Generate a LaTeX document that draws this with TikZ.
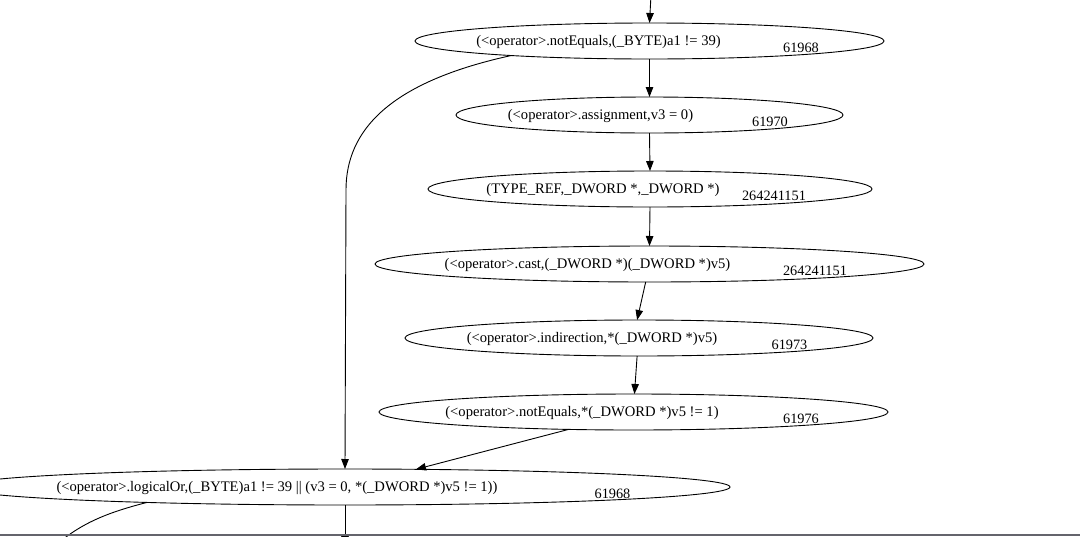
\documentclass[tikz,border=0pt]{standalone}
\usepackage{fontspec}
\setmainfont{Liberation Serif}
\usetikzlibrary{arrows.meta,shapes.geometric,calc}
\definecolor{rulegray}{RGB}{100,100,108}
\tikzset{
  ast/.style={ellipse, draw, line width=0.9pt, inner sep=0pt, outer sep=0pt, minimum height=36pt},
  lbl/.style={anchor=base, inner sep=0pt, font=\fontsize{14.6}{16}\selectfont},
  num/.style={anchor=base, inner sep=0pt, font=\fontsize{14.3}{16}\selectfont},
  edge/.style={draw, line width=0.9pt, -{Triangle[length=10pt,width=7.5pt]}},
  plain/.style={draw, line width=0.9pt},
  rule/.style={draw=rulegray, line width=1.5pt}
}
\begin{document}
\begin{tikzpicture}[x=1pt,y=-1pt]
\useasboundingbox (0,0) rectangle (1080,536);
\clip (0,0) rectangle (1080,536);
% nodes
\node[ast, minimum width=469pt] (n1) at (649.5,41) {};
\node[lbl] (t1) at (598.5,45) {(<operator>.notEquals,(\_BYTE)a1 != 39)};
\node[num] (k1) at (801,52) {61968};
\node[ast, minimum width=387pt] (n2) at (649.5,115) {};
\node[lbl] (t2) at (600.5,119) {(<operator>.assignment,v3 = 0)};
\node[num] (k2) at (770,126) {61970};
\node[ast, minimum width=444pt] (n3) at (650,189) {};
\node[lbl] (t3) at (603,193) {(TYPE\_REF,\_DWORD *,\_DWORD *)};
\node[num] (k3) at (774,200) {264241151};
\node[ast, minimum width=549pt] (n4) at (649.5,264) {};
\node[lbl] (t4) at (587.5,268) {(<operator>.cast,(\_DWORD *)(\_DWORD *)v5)};
\node[num] (k4) at (815,275) {264241151};
\node[ast, minimum width=468pt] (n5) at (639,338) {};
\node[lbl] (t5) at (592,342) {(<operator>.indirection,*(\_DWORD *)v5)};
\node[num] (k5) at (789.5,349) {61973};
\node[ast, minimum width=509pt] (n6) at (633.5,412) {};
\node[lbl] (t6) at (582,416) {(<operator>.notEquals,*(\_DWORD *)v5 != 1)};
\node[num] (k6) at (801,423) {61976};
\node[ast, minimum width=770pt] (n7) at (345,487) {};
\node[lbl] (t7) at (277,491) {(<operator>.logicalOr,(\_BYTE)a1 != 39 || (v3 = 0, *(\_DWORD *)v5 != 1))};
\node[num] (k7) at (612.5,498) {61968};
% free ends
\coordinate (top) at (651,-5);
\coordinate (bot) at (345,546);
\coordinate (botl) at (55,546);
\coordinate (n7out) at ($(n7.center)+(-198,15.4)$);
% edges
\draw[edge] (top) -- (n1.north);
\draw[edge] (n1.south) -- (n2.north);
\draw[edge] (n2.south) -- (n3.north);
\draw[edge] (n3.south) -- (n4.north);
\draw[edge] (n4.-102) -- (n5.96);
\draw[edge] (n5.-96) -- (n6.87);
\draw[edge] (n6.-165) -- (n7.14);
\draw[edge] (n1.-174) .. controls (390,82) and (346,130) .. (346,190) -- (n7.north);
\draw[edge] (n7.south) -- (bot);
\draw[plain] (n7out) .. controls (110,512) and (82,522) .. (botl);
\draw[rule] (0,535.2) -- (1080,535.2);
\end{tikzpicture}
\end{document}
